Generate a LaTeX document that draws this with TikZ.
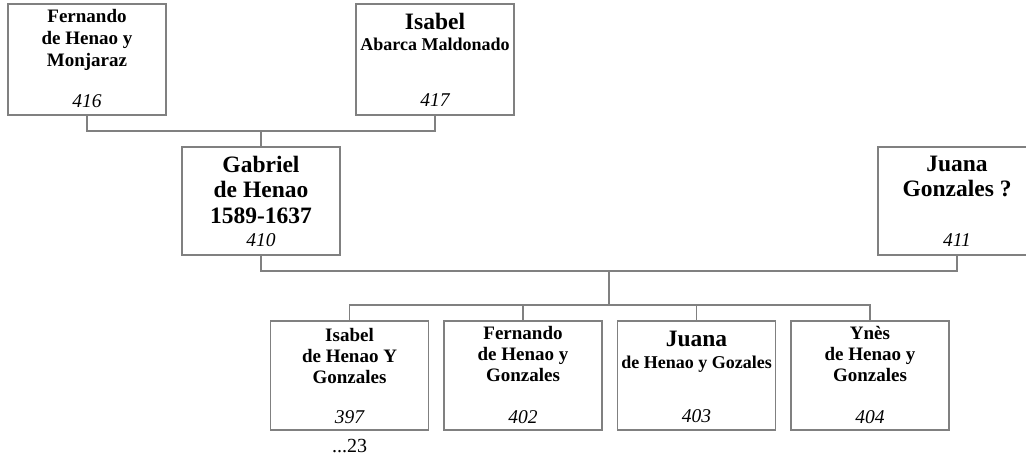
\documentclass[tikz,border=0pt]{standalone}
\usepackage{fontspec}
\setmainfont{Liberation Serif}
\usetikzlibrary{calc}
\definecolor{linegray}{RGB}{128,128,128}
\tikzset{
  box/.style={draw=linegray, line width=1.2pt, minimum width=158pt, minimum height=110pt, inner sep=0pt, outer sep=0pt},
  link/.style={draw=linegray, line width=1.2pt},
  nm/.style={anchor=base, inner sep=0pt, font=\bfseries\fontsize{19}{21}\selectfont},
  nmbig/.style={anchor=base, inner sep=0pt, font=\bfseries\fontsize{23.5}{26}\selectfont},
  nmsmall/.style={anchor=base, inner sep=0pt, font=\bfseries\fontsize{18}{20}\selectfont},
  num/.style={anchor=base, inner sep=0pt, font=\itshape\fontsize{19.5}{22}\selectfont},
  plain/.style={anchor=base, inner sep=0pt, font=\fontsize{20}{22}\selectfont}
}
\begin{document}
\begin{tikzpicture}[x=1pt, y=-1pt]
\useasboundingbox (0,0) rectangle (1026,463);
\clip (0,0) rectangle (1026,463);
\fill[white] (0,0) rectangle (1026,463);

% boxes
\node[box, minimum height=111pt] (p416) at (87,59.5) {};
\node[box, minimum height=111pt] (p417) at (435,59.5) {};
\node[box, minimum height=108pt] (p410) at (261,201) {};
\node[box, minimum height=108pt] (p411) at (957,201) {};
\node[box, minimum height=109pt] (c397) at (349.5,375.5) {};
\node[box, minimum height=109pt] (c402) at (523,375.5) {};
\node[box, minimum height=109pt] (c403) at (696.5,375.5) {};
\node[box, minimum height=109pt] (c404) at (870,375.5) {};

% junctions
\coordinate (j1) at (261,131);
\coordinate (j2) at (609,271);
\coordinate (j3) at (609,305);

% connectors
\draw[link] (p416.south) |- (j1) -| (p417.south);
\draw[link] (j1) -- (p410.north);
\draw[link] (p410.south) |- (j2) -| (p411.south);
\draw[link] (j2) -- (j3);
\draw[link] (c397.north) |- (j3) -| (c404.north);
\draw[link] (c402.north) -- (c402.north |- j3);
\draw[link] (c403.north) -- (c403.north |- j3);

% texts 416
\node[nm] (t416a) at (87,23) {Fernando};
\node[nm] (t416b) at (87,44) {de Henao y};
\node[nm] (t416c) at (87,66) {Monjaraz};
\node[num] (n416) at (87,107) {416};
% 417
\node[nmbig] (t417a) at (435,29) {Isabel};
\node[nmsmall] (t417b) at (435,50) {Abarca Maldonado};
\node[num] (n417) at (435,106) {417};
% 410
\node[nmbig] (t410a) at (261,172) {Gabriel};
\node[nmbig] (t410b) at (261,197) {de Henao};
\node[nmbig] (t410c) at (261,223) {1589-1637};
\node[num] (n410) at (261,246) {410};
% 411
\node[nmbig] (t411a) at (957,171) {Juana};
\node[nmbig] (t411b) at (957,196) {Gonzales ?};
\node[num] (n411) at (957,246) {411};
% 397
\node[nm] (t397a) at (349.5,341) {Isabel};
\node[nm] (t397b) at (349.5,362) {de Henao Y};
\node[nm] (t397c) at (349.5,383) {Gonzales};
\node[num] (n397) at (349.5,423) {397};
\node[plain] (d397) at (349.5,452) {...23};
% 402
\node[nm] (t402a) at (523,339) {Fernando};
\node[nm] (t402b) at (523,360) {de Henao y};
\node[nm] (t402c) at (523,381) {Gonzales};
\node[num] (n402) at (523,423) {402};
% 403
\node[nmbig] (t403a) at (696.5,346) {Juana};
\node[nmsmall] (t403b) at (696.5,368) {de Henao y Gozales};
\node[num] (n403) at (696.5,422) {403};
% 404
\node[nm] (t404a) at (870,339) {Ynès};
\node[nm] (t404b) at (870,360) {de Henao y};
\node[nm] (t404c) at (870,381) {Gonzales};
\node[num] (n404) at (870,423) {404};
\end{tikzpicture}
\end{document}
